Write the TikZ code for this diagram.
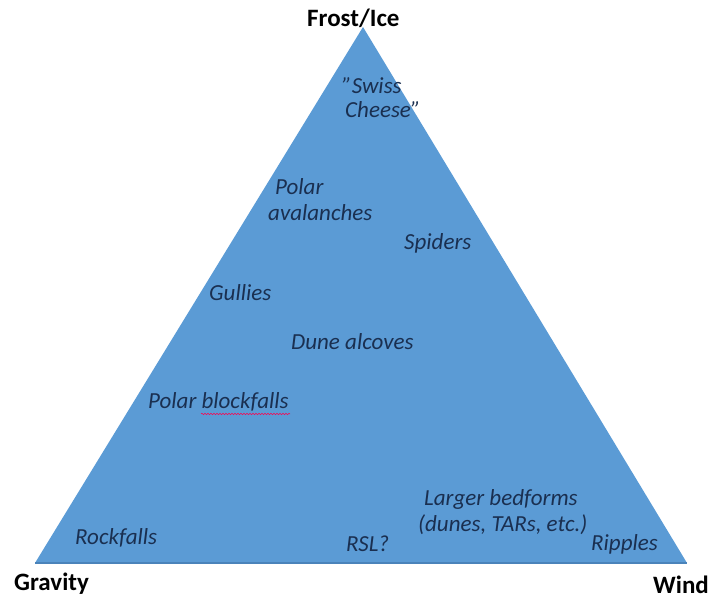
\documentclass[tikz,border=0pt]{standalone}
\usepackage{fontspec}
\setmainfont{Carlito}
\usetikzlibrary{decorations.pathmorphing}
\definecolor{trifill}{HTML}{5B9BD5}
\definecolor{triline}{HTML}{4A83BA}
\definecolor{itxt}{HTML}{1A2F50}
\begin{document}
\begin{tikzpicture}[x=1pt,y=-1pt,
  item/.style={font=\fontsize{23}{26}\selectfont\itshape, text=itxt, inner sep=0pt, anchor=base west},
  corner/.style={font=\fontsize{25}{28}\selectfont\bfseries, text=black, inner sep=0pt, anchor=base west}]
\useasboundingbox (0,0) rectangle (716,601);
\coordinate (apex) at (363,27);
\coordinate (bl) at (35,563);
\coordinate (br) at (687,563);
\fill[trifill] (apex) -- (br) -- (bl) -- cycle;
\draw[triline, line width=1.2pt] (bl) -- (br);
\node[corner] (frost) at (307,27) {Frost/Ice};
\node[corner] (gravity) at (14,591) {Gravity};
\node[corner] (wind) at (653,594) {Wind};
\node[item] (swissA) at (342,94) {”Swiss};
\node[item] (swissB) at (345,118) {Cheese”};
\node[item] (avalA) at (275,195) {Polar};
\node[item] (avalB) at (268,221) {avalanches};
\node[item] (spiders) at (404,250) {Spiders};
\node[item] (gullies) at (209,301) {Gullies};
\node[item] (dune) at (291,350) {Dune alcoves};
\node[item] (block) at (148,409) {Polar blockfalls};
\node[item] (largerA) at (424,506) {Larger bedforms};
\node[item] (largerB) at (418,532) {(dunes, TARs, etc.)};
\node[item] (rock) at (75,545) {Rockfalls};
\node[item] (rsl) at (346,552) {RSL?};
\node[item] (ripples) at (591,551) {Ripples};
\draw[red!70!magenta, line width=0.5pt, decorate, decoration={snake, amplitude=0.7pt, segment length=3pt}] (block.base west) ++(53,5) -- ++(89,0);
\end{tikzpicture}
\end{document}
